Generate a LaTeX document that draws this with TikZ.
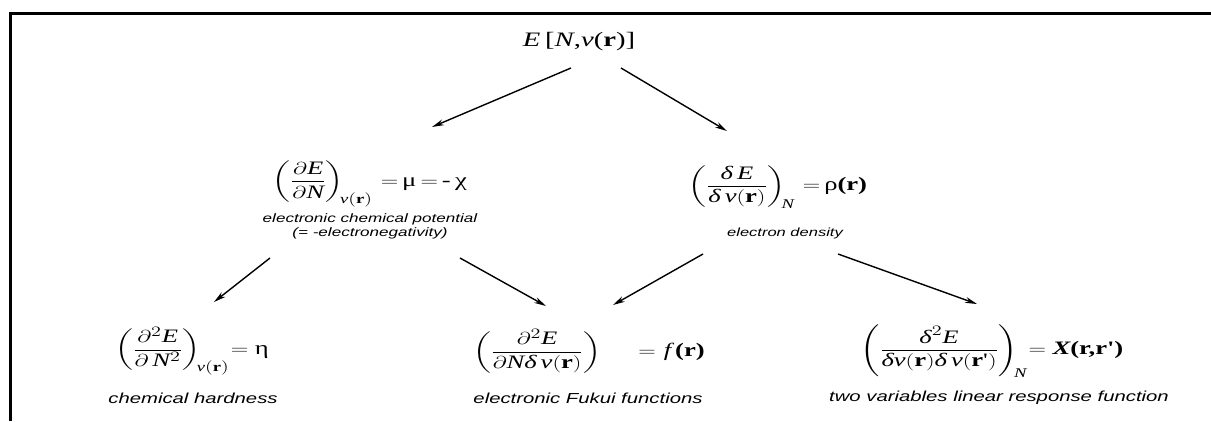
\documentclass[tikz,border=0pt]{standalone}
\usepackage{graphicx}
\usepackage{amsmath}
\usepackage{fontspec}
\setmainfont{Liberation Serif}
\newfontfamily\labfont{Liberation Sans}
\usetikzlibrary{arrows.meta,calc}
\newcommand{\sx}[1]{\scalebox{1.4}[1]{#1}}
\newcommand{\rp}{\textbf{r}\textquotesingle}
\newcommand{\eqs}{\mkern3mu{=}\mkern3mu}
\tikzset{
  fml/.style={inner sep=0pt, font=\fontsize{19}{23}\selectfont},
  lab/.style={inner sep=0pt, font=\labfont\itshape\fontsize{14.5}{17}\selectfont},
  smlab/.style={inner sep=0pt, font=\labfont\itshape\fontsize{12.2}{14}\selectfont},
  arr/.style={-{Stealth[length=12pt,width=6pt]}, line width=1.4pt},
  frame/.style={line width=3pt}
}
\begin{document}
\begin{tikzpicture}[x=1pt,y=-1pt]
\useasboundingbox (0,0) rectangle (1211,421);
\draw[frame] (1211,13.5) -- (10.5,13.5) -- (10.5,421);

\node[fml, font=\fontsize{20.5}{24}\selectfont] (root) at (579,42) {\sx{\textit{E}\,[\textit{N},\textit{v}(\textbf{r})]}};

\node[fml] (chem) at (370,184) {\sx{$\left(\dfrac{\partial \mathit{E}}{\partial \mathit{N}}\right)_{\!\mathit{v}(\mathbf{r})}\eqs\text{μ}\eqs\text{-\,χ}$}};
\node[smlab] (chemA) at (370,219) {\sx{electronic chemical potential}};
\node[smlab] (chemB) at (370,233) {\sx{(= -electronegativity)}};

\node[fml] (dens) at (778,187) {\sx{$\left(\dfrac{\text{\itshape δ}\,\mathit{E}}{\text{\itshape δ}\,\mathit{v}(\mathbf{r})}\right)_{\!\mathit{N}}\eqs\text{ρ}\textbf{(r)}$}};
\node[smlab, font=\labfont\itshape\fontsize{11.8}{14}\selectfont] (densA) at (785,233) {\sx{electron density}};

\node[fml] (hard) at (192,351) {\sx{$\left(\dfrac{\partial^2\mathit{E}}{\partial\,\mathit{N}^2}\right)_{\!\mathit{v}(\mathbf{r})}\mkern-2mu{=}\mkern5mu\text{η}$}};
\node[lab] (hardA) at (193,398) {\sx{chemical hardness}};

\node[fml] (fukui) at (589,351) {\sx{$\left(\dfrac{\partial^2\mathit{E}}{\partial\mathit{N}\text{\itshape δ}\,\mathit{v}(\mathbf{r})}\right)\quad\;{=}\mkern6mu\mathit{f}\,\textbf{(r)}$}};
\node[lab] (fukuiA) at (588,398) {\sx{electronic Fukui functions}};

\node[fml] (resp) at (992,351) {\sx{$\left(\dfrac{\text{\itshape δ}^2\mathit{E}}{\text{\itshape δ}\mathit{v}(\mathbf{r})\text{\itshape δ}\,\mathit{v}(\text{\rp})}\right)_{\!\mathit{N}}\mkern-2mu{=}\mkern5mu\text{\bfseries\itshape X}\textbf{(r,\rp)}$}};
\node[lab] (respA) at (999,398) {\sx{two variables linear response function}};

\draw[arr] ($(root)+(-8,26)$) -- ($(chem)+(62,-57)$);
\draw[arr] ($(root)+(42,26)$) -- ($(dens)+(-51,-56)$);
\draw[arr] ($(chem)+(-100,74)$) -- ($(hard)+(22,-49)$);
\draw[arr] ($(chem)+(90,74)$) -- ($(fukui)+(-43,-45)$);
\draw[arr] ($(dens)+(-75,67)$) -- ($(fukui)+(24,-46)$);
\draw[arr] ($(dens)+(60,67)$) -- ($(resp)+(-15,-47)$);
\end{tikzpicture}
\end{document}
